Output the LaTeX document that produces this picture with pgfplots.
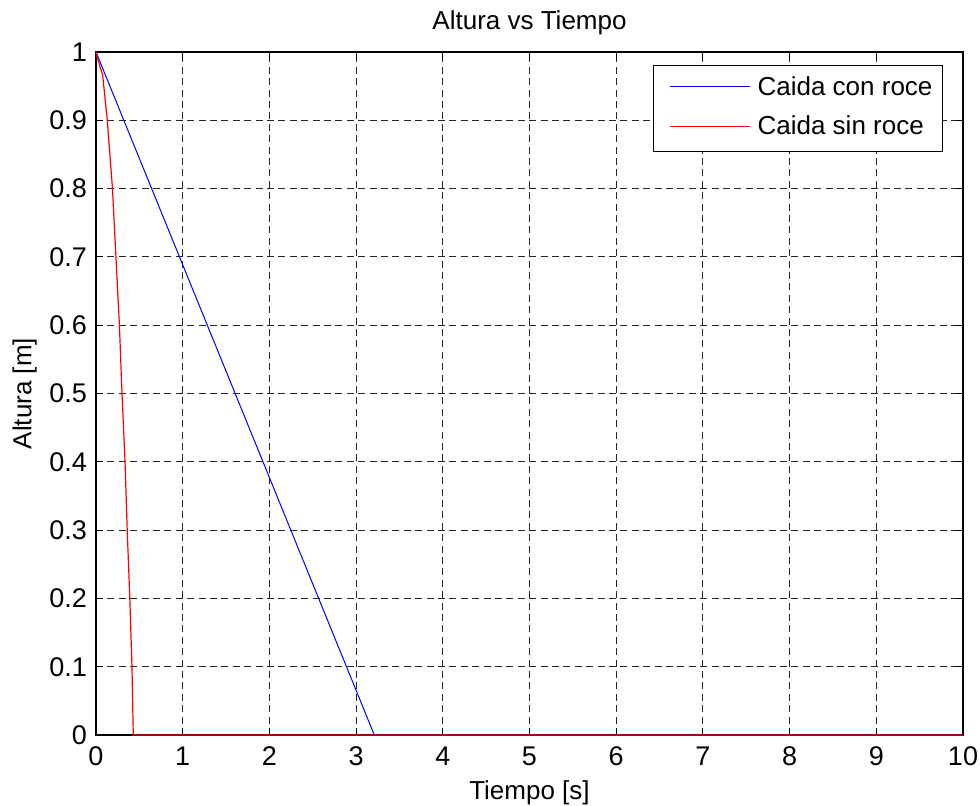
\documentclass[border=0pt]{standalone}
\usepackage{pgfplots}
\pgfplotsset{compat=1.18}
\usepackage{fontspec}
\setmainfont{Liberation Sans}
\begin{document}
\fontsize{13pt}{15.6pt}\selectfont
\begin{tikzpicture}
\begin{axis}[
  scale only axis,
  width=433.5pt, height=341.5pt,
  at={(0,0)}, anchor=south west,
  xmin=0, xmax=10, ymin=0, ymax=1,
  clip=false,
  xtick={0,1,...,10},
  ytick={0,0.1,0.2,0.3,0.4,0.5,0.6,0.7,0.8,0.9,1},
  yticklabels={0,0.1,0.2,0.3,0.4,0.5,0.6,0.7,0.8,0.9,1},
  /pgf/number format/assume math mode=true,
  tick label style={font=\fontsize{13.5pt}{16pt}\selectfont},
  xticklabel style={yshift=-1.5pt},
  tick align=inside,
  xtick pos=both, ytick pos=both,
  major tick length=3.5pt,
  tick style={black, line width=0.5pt},
  axis line style={black, line width=0.6pt},
  grid=major,
  major grid style={black!85, line width=0.5pt, dash pattern=on 3.5pt off 2.2pt},
  title={Altura vs Tiempo},
  title style={yshift=-2pt},
  xlabel={Tiempo [s]},
  ylabel={Altura [m]},
  xlabel style={yshift=1.5pt},
  ylabel style={yshift=-2.5pt},
]
\addplot[blue, line width=0.5pt] coordinates {
(0,1) (0.321,0.9) (0.642,0.8) (0.963,0.7) (1.284,0.6)
(1.605,0.5) (1.926,0.4) (2.247,0.3) (2.568,0.2) (2.889,0.1) (3.21,0) (10,0)
};
\addplot[red, line width=0.6pt] coordinates {
(0,1) (0.02,0.99) (0.077,0.966) (0.13,0.9) (0.19,0.8) (0.23,0.7) (0.27,0.6)
(0.30,0.5) (0.335,0.4) (0.36,0.3) (0.39,0.2) (0.415,0.1) (0.43,0) (10,0)
};
\node[draw=black, fill=white, line width=0.5pt, anchor=north east,
      inner xsep=5pt, inner ysep=4pt, align=left]
  at ([xshift=-10pt,yshift=-6.5pt]rel axis cs:1,1)
  {\begin{tabular}{@{\hspace{3pt}}l@{\hspace{4pt}}l@{}}
   \textcolor{blue}{\rule[4pt]{40pt}{0.5pt}} & Caida con roce\\[4pt]
   \textcolor{red}{\rule[4pt]{40pt}{0.5pt}} & Caida sin roce
   \end{tabular}};
\end{axis}
\pgfresetboundingbox
\path[use as bounding box] (-48pt,-35pt) rectangle (442pt,367.5pt);
\end{tikzpicture}
\end{document}
